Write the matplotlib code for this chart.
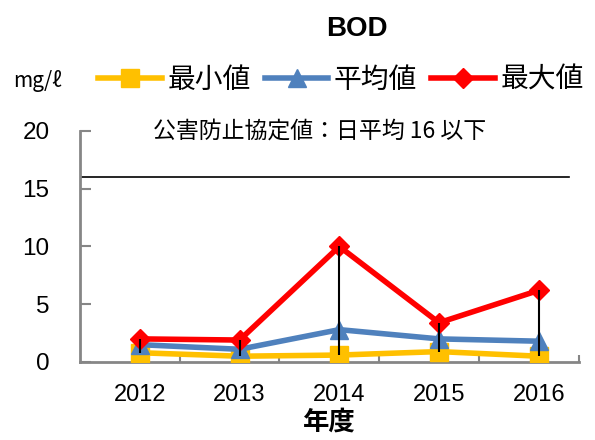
import matplotlib.pyplot as plt
from matplotlib.ticker import FixedLocator

plt.rcParams['font.family'] = ['Noto Sans CJK JP', 'DejaVu Sans']

# datos
years = ['2012', '2013', '2014', '2015', '2016']
min_vals = [0.8, 0.5, 0.6, 0.9, 0.5]
avg_vals = [1.5, 1.1, 2.8, 2.0, 1.8]
max_vals = [2.0, 1.9, 10.0, 3.4, 6.2]
standard = 16
yticks = [0, 5, 10, 15, 20]

fig = plt.figure(figsize=(5.95, 4.4), dpi=100)
ax = fig.add_axes([0.1345, 0.1773, 0.838, 0.525])

x = list(range(len(years)))

# líneas alto-bajo
ax.vlines(x, min_vals, max_vals, color='black', lw=1.5, zorder=4)

ax.plot(x, min_vals, color='#FFC000', lw=4, marker='s', ms=13, label='最小値', zorder=3)
ax.plot(x, avg_vals, color='#4F81BD', lw=4, marker='^', ms=13, label='平均値', zorder=3)
ax.plot(x, max_vals, color='#FF0000', lw=4, marker='D', ms=10, label='最大値', zorder=3)

ax.axhline(standard, xmin=0, xmax=0.98, color='black', lw=1.2)
ax.text(1.8, 19.0, '公害防止協定値：日平均 16 以下', ha='center', va='bottom',
        fontsize=16.5)

ax.set_xlim(-0.6, 4.4)
ax.set_ylim(0, 20)
ax.set_xticks(x)
ax.set_xticklabels(years, family=['Liberation Sans'], fontsize=17)
ax.xaxis.set_minor_locator(FixedLocator([0.4, 1.4, 2.4, 3.4, 4.4]))
ax.set_yticks(yticks)
ax.set_yticklabels([str(v) for v in yticks], family=['Liberation Sans'], fontsize=17.5)
ax.tick_params(axis='x', which='major', length=0, pad=16)
ax.tick_params(axis='x', which='minor', direction='in', length=5, color='#868686', width=1.5)
ax.tick_params(axis='y', direction='in', length=8, color='#868686', width=1.5, pad=22)

for s in ['top', 'right']:
    ax.spines[s].set_visible(False)
for s in ['left', 'bottom']:
    ax.spines[s].set_color('#868686')
    ax.spines[s].set_linewidth(2)

fig.text(0.553, 0.04, '年度', ha='center', va='center', fontsize=19, fontweight='bold')

fig.text(0.60, 0.933, 'BOD', ha='center', va='center', fontsize=20,
         fontweight='bold', family=['Liberation Sans'])
fig.text(0.022, 0.817, 'mg/ℓ', ha='left', va='center', fontsize=15,
         family=['Noto Sans CJK JP'])
fig.legend(loc='center', bbox_to_anchor=(0.573, 0.818), ncol=3, frameon=False,
           fontsize=20, handlelength=2.3, columnspacing=0.5, handletextpad=0.2,
           borderpad=0)

fig.savefig('out.png', dpi=100)
